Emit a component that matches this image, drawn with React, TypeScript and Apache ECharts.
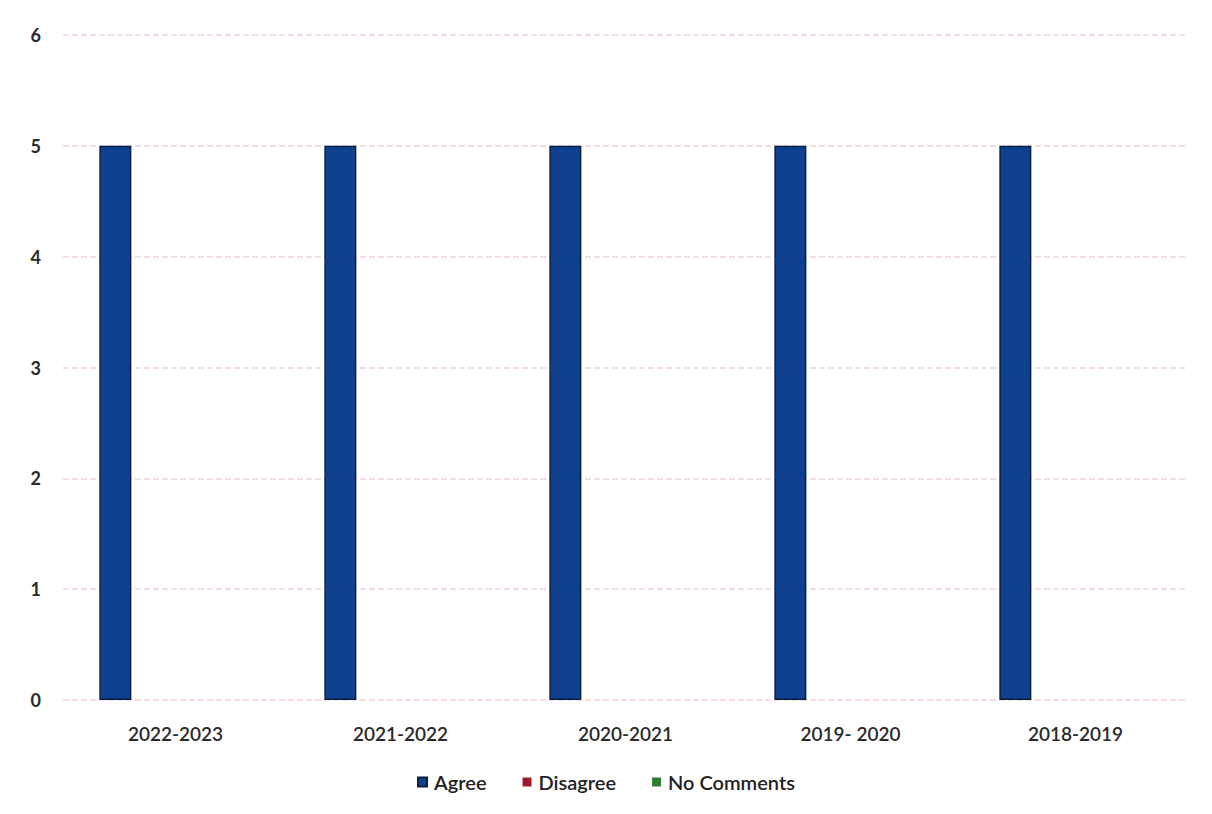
import React, { useEffect, useRef } from "react";
import * as echarts from "echarts";

const categories = ["2022-2023", "2021-2022", "2020-2021", "2019- 2020", "2018-2019"];
const agree = [5, 5, 5, 5, 5];
const disagree = [0, 0, 0, 0, 0];
const noComments = [0, 0, 0, 0, 0];
const yTicks = [0, 1, 2, 3, 4, 5, 6];

export default function App() {
  const ref = useRef<HTMLDivElement>(null);
  useEffect(() => {
    if (!ref.current) return;
    const chart = echarts.init(ref.current, undefined, { renderer: "svg" });
    const font = "Lato, 'Open Sans', sans-serif";
    chart.setOption({
      animation: false,
      backgroundColor: "#ffffff",
      grid: { left: 63, right: 24, top: 35, bottom: 114, containLabel: false },
      legend: {
        bottom: 17,
        left: "center",
        itemWidth: 9,
        itemHeight: 9,
        itemGap: 36,
        icon: "rect",
        textStyle: { fontFamily: font, fontSize: 20, fontWeight: 600, color: "#222", padding: [0, 0, 0, 2] },
        data: ["Agree", "Disagree", "No Comments"],
      },
      xAxis: {
        type: "category",
        data: categories,
        axisLine: { show: false },
        axisTick: { show: false },
        axisLabel: { fontFamily: font, fontSize: 19, fontWeight: 600, color: "#2a2a2a", margin: 24 },
      },
      yAxis: {
        type: "value",
        min: yTicks[0],
        max: yTicks[yTicks.length - 1],
        interval: 1,
        axisLine: { show: false },
        axisTick: { show: false },
        axisLabel: { fontFamily: font, fontSize: 18, fontWeight: 700, color: "#2a2a2a", margin: 22 },
        splitLine: { show: true, lineStyle: { color: "#eed3d5", type: "dashed", width: 1.5 } },
      },
      series: [
        {
          name: "Agree",
          type: "bar",
          data: agree,
          barWidth: 32,
          barGap: "88%",
          itemStyle: { color: "#0f418f", borderColor: "#0a1f45", borderWidth: 1.5 },
        },
        {
          name: "Disagree",
          type: "bar",
          data: disagree,
          barWidth: 32,
          itemStyle: { color: "#a3172a", borderWidth: 0 },
        },
        {
          name: "No Comments",
          type: "bar",
          data: noComments,
          barWidth: 32,
          itemStyle: { color: "#2e7d2e", borderWidth: 0 },
        },
      ],
    });
    return () => chart.dispose();
  }, []);
  return (
    <div
      ref={ref}
      style={{ position: "fixed", left: 0, top: 0, width: 1212, height: 814, background: "#fff" }}
    />
  );
}
